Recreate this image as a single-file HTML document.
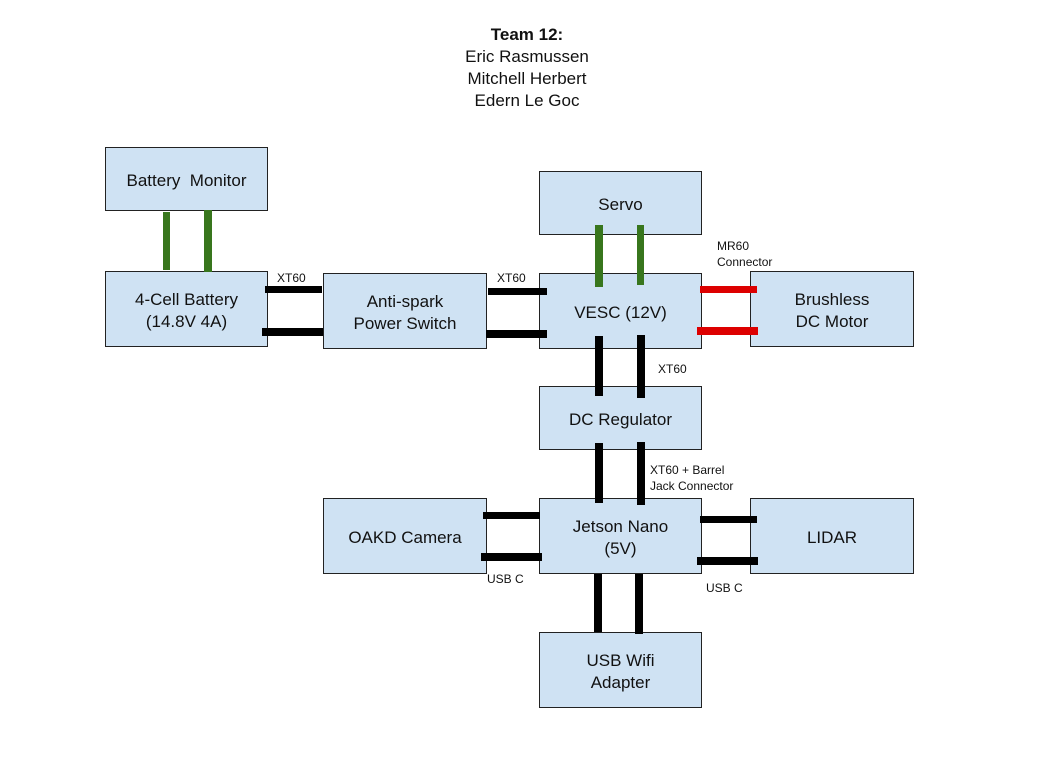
<!DOCTYPE html>
<html><head><style>
body{margin:0;width:1054px;height:765px;background:#fff;position:relative;font-family:"Liberation Sans",sans-serif;overflow:hidden}
.b{position:absolute;background:#cfe2f3;border:1px solid #222;box-sizing:border-box;display:flex;align-items:center;justify-content:center;text-align:center;font-size:17px;line-height:22px;color:#111;padding-top:3px}
.l{position:absolute;background:#000}
.g{position:absolute;background:#38761d}
.r{position:absolute;background:#d00}
.t{position:absolute;font-size:12px;line-height:16px;color:#111}
#title{position:absolute;left:0;width:1054px;top:24px;text-align:center;font-size:17px;line-height:22px;color:#111}
</style></head><body>
<div id="title"><b>Team 12:</b><br>Eric Rasmussen<br>Mitchell Herbert<br>Edern Le Goc</div>

<div class="b" style="left:105px;top:147px;width:163px;height:64px">Battery&nbsp; Monitor</div>
<div class="b" style="left:105px;top:271px;width:163px;height:76px">4-Cell Battery<br>(14.8V 4A)</div>
<div class="b" style="left:323px;top:273px;width:164px;height:76px">Anti-spark<br>Power Switch</div>
<div class="b" style="left:539px;top:171px;width:163px;height:64px">Servo</div>
<div class="b" style="left:539px;top:273px;width:163px;height:76px">VESC (12V)</div>
<div class="b" style="left:750px;top:271px;width:164px;height:76px">Brushless<br>DC Motor</div>
<div class="b" style="left:539px;top:386px;width:163px;height:64px">DC Regulator</div>
<div class="b" style="left:539px;top:498px;width:163px;height:76px">Jetson Nano<br>(5V)</div>
<div class="b" style="left:323px;top:498px;width:164px;height:76px">OAKD Camera</div>
<div class="b" style="left:750px;top:498px;width:164px;height:76px">LIDAR</div>
<div class="b" style="left:539px;top:632px;width:163px;height:76px">USB Wifi<br>Adapter</div>

<div class="g" style="left:163px;top:212px;width:7px;height:58px"></div>
<div class="g" style="left:204px;top:210px;width:8px;height:62px"></div>
<div class="g" style="left:595px;top:225px;width:8px;height:62px"></div>
<div class="g" style="left:637px;top:225px;width:7px;height:60px"></div>

<div class="l" style="left:265px;top:286px;width:57px;height:7px"></div>
<div class="l" style="left:262px;top:328px;width:61px;height:8px"></div>
<div class="l" style="left:488px;top:288px;width:59px;height:7px"></div>
<div class="l" style="left:486px;top:330px;width:61px;height:8px"></div>
<div class="r" style="left:700px;top:286px;width:57px;height:7px"></div>
<div class="r" style="left:697px;top:327px;width:61px;height:8px"></div>
<div class="l" style="left:595px;top:336px;width:8px;height:60px"></div>
<div class="l" style="left:637px;top:335px;width:8px;height:63px"></div>
<div class="l" style="left:595px;top:443px;width:8px;height:60px"></div>
<div class="l" style="left:637px;top:442px;width:8px;height:63px"></div>
<div class="l" style="left:483px;top:512px;width:57px;height:7px"></div>
<div class="l" style="left:481px;top:553px;width:61px;height:8px"></div>
<div class="l" style="left:700px;top:516px;width:57px;height:7px"></div>
<div class="l" style="left:697px;top:557px;width:61px;height:8px"></div>
<div class="l" style="left:594px;top:574px;width:8px;height:58px"></div>
<div class="l" style="left:635px;top:574px;width:8px;height:60px"></div>

<div class="t" style="left:277px;top:270px">XT60</div>
<div class="t" style="left:497px;top:270px">XT60</div>
<div class="t" style="left:717px;top:238px">MR60<br>Connector</div>
<div class="t" style="left:658px;top:361px">XT60</div>
<div class="t" style="left:650px;top:462px">XT60 + Barrel<br>Jack Connector</div>
<div class="t" style="left:487px;top:571px">USB C</div>
<div class="t" style="left:706px;top:580px">USB C</div>
</body></html>
